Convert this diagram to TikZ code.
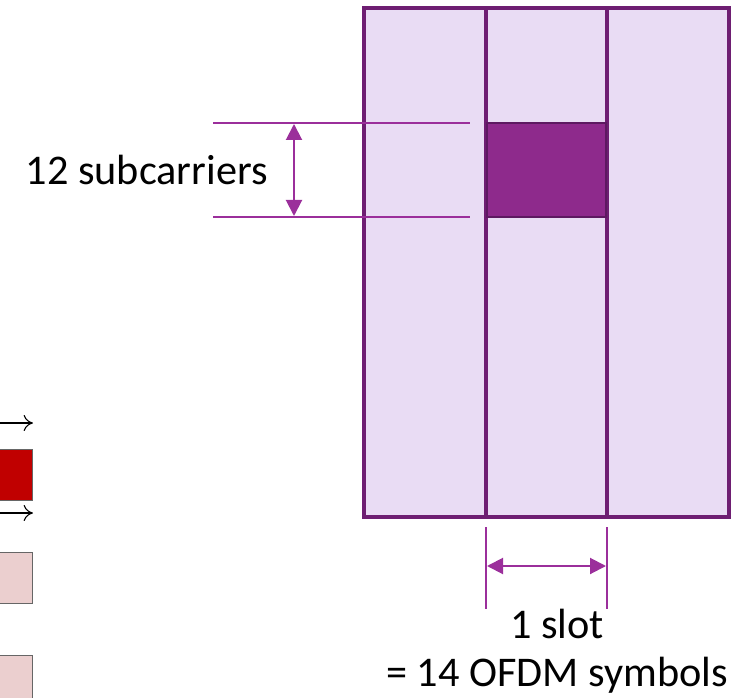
\documentclass[tikz,border=0pt]{standalone}
\usepackage{fontspec}
\setmainfont{Carlito}
\usetikzlibrary{arrows.meta}
\definecolor{lavender}{HTML}{E9DCF4}
\definecolor{grape}{HTML}{6E1E72}
\definecolor{plum}{HTML}{8E2A8C}
\definecolor{dimline}{HTML}{9B2F9B}
\definecolor{brick}{HTML}{C00000}
\definecolor{rose}{HTML}{EBCFCF}

\begin{document}
\begin{tikzpicture}[x=0.75pt, y=-0.75pt, semithick]
        \tikzset{
           column/.style={
                        draw=grape,
                        fill=lavender,
                        line width=2.6pt
                       },
           block/.style={
                        draw=grape!85!black,
                        fill=plum,
                        line width=1.8pt
                       },
           dim/.style={
                        color=dimline,
                        line width=1.5pt,
                        >={Triangle[length=12pt,width=12pt,fill=dimline]}
                       },
           legendbox/.style={
                        draw=black!60,
                        line width=0.6pt
                       },
           pointer/.style={
                        ->,
                        >={To[length=7pt,width=12pt]},
                        draw=black,
                        line width=0.8pt
                       },
           caption/.style={
                        inner sep=0pt,
                        text=black,
                        font=\fontsize{31.7}{38}\selectfont
                       },
                 };
        \useasboundingbox (0,0) rectangle (745,698);
        %----------------
        % resource grid
        \draw[column] (364,8) rectangle (486,517);
        \draw[column] (486,8) rectangle (607,517);
        \draw[column] (607,8) rectangle (729,517);
        \draw[block] (487,123) rectangle (606,217);
        %----------------
        % legend leftovers at the left edge
        \coordinate (in1) at (-2,423);
        \coordinate (out1) at (33,423);
        \coordinate (in2) at (-2,513);
        \coordinate (out2) at (33,513);
        \draw[legendbox, fill=brick] (-3,449) rectangle (32,500);
        \draw[legendbox, fill=rose] (-3,552) rectangle (32,603);
        \draw[legendbox, fill=rose] (-3,655) rectangle (32,705);
        %----------------
        % dimension lines
        \coordinate (topL) at (213,123);
        \coordinate (topR) at (470,123);
        \coordinate (botL) at (213,217);
        \coordinate (botR) at (470,217);
        \coordinate (scTop) at (294,124);
        \coordinate (scBot) at (294,216);
        \coordinate (leftT) at (486,527);
        \coordinate (leftB) at (486,609);
        \coordinate (rightT) at (607,527);
        \coordinate (rightB) at (607,609);
        \coordinate (slotL) at (487,566);
        \coordinate (slotR) at (606,566);
        %----------------
        \node[caption, anchor=base east] (subcarriers) at (268,185) {12 subcarriers};
        \node[caption, anchor=base] (slot) at (557,638) {1 slot};
        \node[caption, anchor=base] (symbols) at (557,686) {= 14 OFDM symbols};
        %----------------
        \path[dim] (topL) edge (topR)
                   (botL) edge (botR)
                   (leftT) edge (leftB)
                   (rightT) edge (rightB)
                   (scTop) edge[<->] (scBot)
                   (slotL) edge[<->] (slotR)
        ;
        \path (in1) edge[pointer] (out1)
              (in2) edge[pointer] (out2)
        ;
\end{tikzpicture}
\end{document}
